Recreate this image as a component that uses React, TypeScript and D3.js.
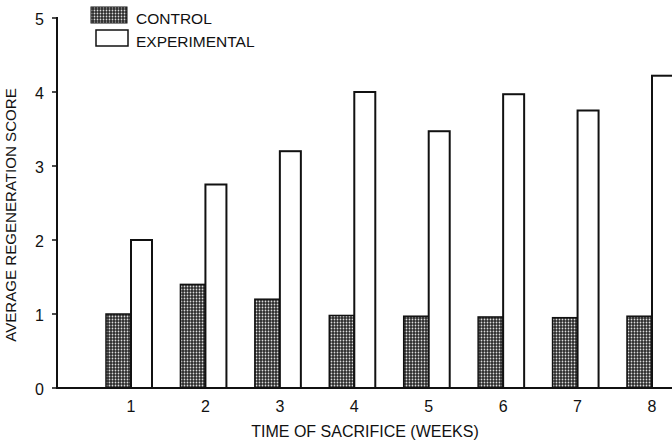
import React from "react";
import * as d3 from "d3";

const weeks = [1, 2, 3, 4, 5, 6, 7, 8];
const controlScores = [1.0, 1.4, 1.2, 0.98, 0.97, 0.96, 0.95, 0.97];
const experimentalScores = [2.0, 2.75, 3.2, 4.0, 3.47, 3.97, 3.75, 4.22];
const yTicks = [0, 1, 2, 3, 4, 5];
const seriesNames = ["CONTROL", "EXPERIMENTAL"];

const W = 672;
const H = 444;

export default function App() {
  const x = d3.scaleLinear().domain([1, 8]).range([131, 652]);
  const y = d3.scaleLinear().domain([0, 5]).range([388, 18]);
  const ctrlW = 25;
  const expW = 21;
  const font = "'Liberation Sans', Arial, Helvetica, sans-serif";

  return (
    <svg
      width={W}
      height={H}
      style={{ position: "absolute", left: 0, top: 0, background: "#fff" }}
      fontFamily={font}
    >
      <defs>
        <pattern id="stipple" width="3" height="3" patternUnits="userSpaceOnUse">
          <rect width="3" height="3" fill="#2a2a2a" />
          <circle cx="1.5" cy="1.5" r="0.9" fill="#dcdcdc" />
        </pattern>
      </defs>
      <rect width={W} height={H} fill="#fff" />

      {/* bars */}
      {weeks.map((w, i) => (
        <g key={w}>
          <rect
            x={x(w) - ctrlW}
            y={y(controlScores[i])}
            width={ctrlW}
            height={y(0) - y(controlScores[i])}
            fill="url(#stipple)"
            stroke="#111"
            strokeWidth={1.5}
          />
          <rect
            x={x(w)}
            y={y(experimentalScores[i])}
            width={expW}
            height={y(0) - y(experimentalScores[i])}
            fill="#fff"
            stroke="#111"
            strokeWidth={2}
          />
        </g>
      ))}

      {/* axes */}
      <line x1={57} x2={57} y1={y(5) - 1} y2={y(0)} stroke="#111" strokeWidth={2} />
      <line x1={56} x2={W} y1={y(0)} y2={y(0)} stroke="#111" strokeWidth={2} />
      {yTicks.map((t) => (
        <g key={t}>
          <line x1={52} x2={57} y1={y(t)} y2={y(t)} stroke="#111" strokeWidth={1.5} />
          <text x={44} y={y(t) + 6.5} textAnchor="end" fontSize={16} fill="#111">
            {t}
          </text>
        </g>
      ))}
      {weeks.map((w) => (
        <text key={w} x={x(w)} y={412} textAnchor="middle" fontSize={16} fill="#111">
          {w}
        </text>
      ))}

      {/* axis titles */}
      <text x={365} y={437} textAnchor="middle" fontSize={16} fill="#111">
        TIME OF SACRIFICE (WEEKS)
      </text>
      <text
        transform={`translate(16,215) rotate(-90)`}
        textAnchor="middle"
        fontSize={15.1}
        fill="#111"
      >
        AVERAGE REGENERATION SCORE
      </text>

      {/* legend */}
      <rect x={91} y={7} width={36} height={16} fill="url(#stipple)" stroke="#111" strokeWidth={1} />
      <text x={136} y={24} fontSize={15.5} fill="#111">
        {seriesNames[0]}
      </text>
      <rect x={96} y={30} width={32} height={16} fill="#fff" stroke="#111" strokeWidth={1.5} />
      <text x={136} y={47} fontSize={15.5} fill="#111">
        {seriesNames[1]}
      </text>
    </svg>
  );
}
